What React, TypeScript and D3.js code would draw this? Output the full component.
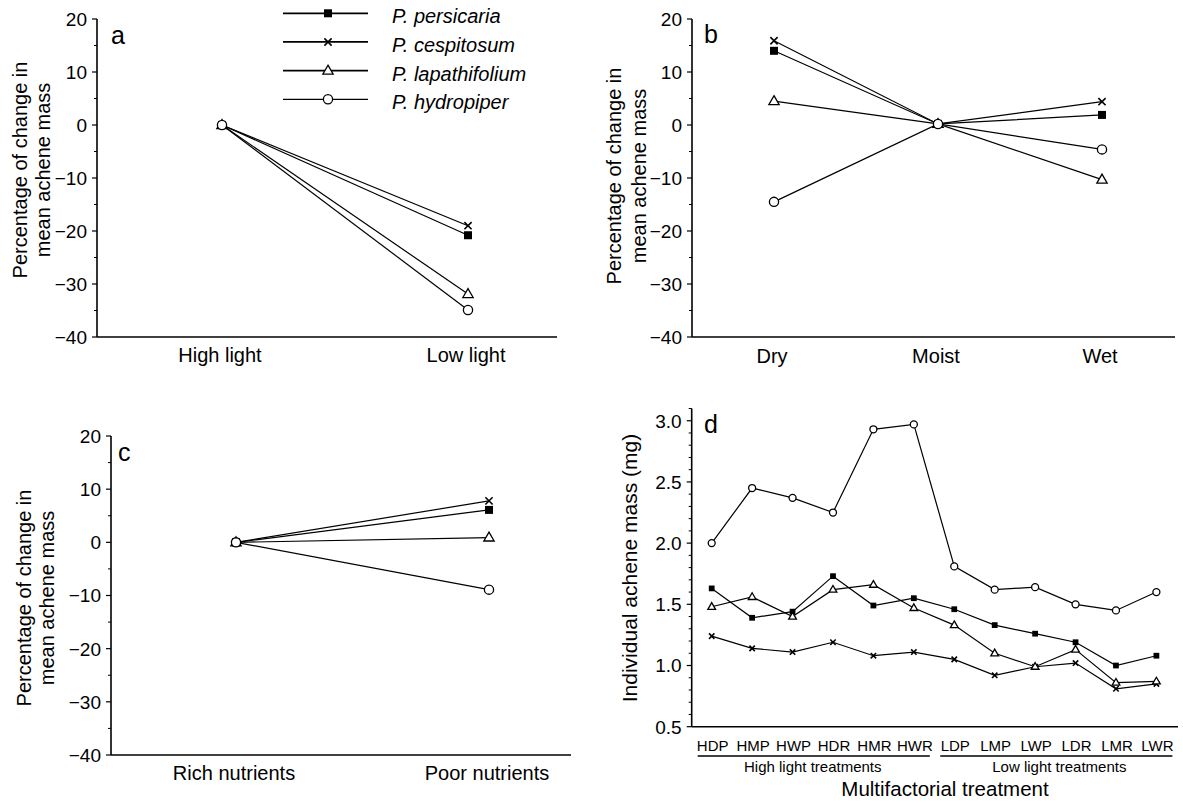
import { useEffect, useRef } from "react"
import * as d3 from "d3"

// legend / series order
const species = ["P. persicaria", "P. cespitosum", "P. lapathifolium", "P. hydropiper"]
const markerTypes = ["square", "cross", "triangle", "circle"]

// panel a: light
const lightCategories = ["High light", "Low light"]
const lightPersicaria = [0, -20.8]
const lightCespitosum = [0, -19]
const lightLapathifolium = [0, -31.9]
const lightHydropiper = [0, -34.9]

// panel b: water
const waterCategories = ["Dry", "Moist", "Wet"]
const waterPersicaria = [14, 0.2, 1.9]
const waterCespitosum = [15.9, 0.2, 4.4]
const waterLapathifolium = [4.5, 0.2, -10.3]
const waterHydropiper = [-14.5, 0.2, -4.6]

// panel c: nutrients
const nutrientCategories = ["Rich nutrients", "Poor nutrients"]
const nutrientPersicaria = [0, 6.1]
const nutrientCespitosum = [0, 7.8]
const nutrientLapathifolium = [0, 0.9]
const nutrientHydropiper = [0, -8.9]

// panel d: multifactorial
const treatmentCategories = ["HDP", "HMP", "HWP", "HDR", "HMR", "HWR", "LDP", "LMP", "LWP", "LDR", "LMR", "LWR"]
const treatmentGroups = ["High light treatments", "Low light treatments"]
const massPersicaria = [1.63, 1.39, 1.44, 1.73, 1.49, 1.55, 1.46, 1.33, 1.26, 1.19, 1.0, 1.08]
const massCespitosum = [1.24, 1.14, 1.11, 1.19, 1.08, 1.11, 1.05, 0.92, 0.99, 1.02, 0.81, 0.85]
const massLapathifolium = [1.48, 1.56, 1.4, 1.62, 1.66, 1.47, 1.33, 1.1, 0.99, 1.13, 0.86, 0.87]
const massHydropiper = [2.0, 2.45, 2.37, 2.25, 2.93, 2.97, 1.81, 1.62, 1.64, 1.5, 1.45, 1.6]

const percentTicks = [-40, -30, -20, -10, 0, 10, 20]
const percentMinorTicks = [-35, -25, -15, -5, 5, 15]
const massTicks = [0.5, 1.0, 1.5, 2.0, 2.5, 3.0]
const massMinorTicks = [0.6, 0.7, 0.8, 0.9, 1.1, 1.2, 1.3, 1.4, 1.6, 1.7, 1.8, 1.9, 2.1, 2.2, 2.3, 2.4, 2.6, 2.7, 2.8, 2.9, 3.1]

const FONT = "'Liberation Sans', Arial, Helvetica, sans-serif"

function drawMarker(g, type, x, y, big) {
    const s = big ? 1 : 0.72
    if (type === "square") {
        const w = 8 * s
        g.append("rect").attr("x", x - w / 2).attr("y", y - w / 2).attr("width", w).attr("height", w).attr("fill", "#000")
    } else if (type === "cross") {
        const r = 3.2 * s + 0.4
        g.append("path")
            .attr("d", `M${x - r},${y - r}L${x + r},${y + r}M${x - r},${y + r}L${x + r},${y - r}`)
            .attr("stroke", "#000").attr("stroke-width", 1.6)
    } else if (type === "triangle") {
        g.append("path")
            .attr("d", d3.symbol(d3.symbolTriangle, big ? 46 : 26)())
            .attr("transform", `translate(${x},${y + (big ? 0.5 : 0.3)})`)
            .attr("fill", "#fff").attr("stroke", "#000").attr("stroke-width", 1.3)
    } else {
        g.append("circle").attr("cx", x).attr("cy", y).attr("r", big ? 4.6 : 3.5)
            .attr("fill", "#fff").attr("stroke", "#000").attr("stroke-width", 1.3)
    }
}

function drawLeftAxis(g, y, x0, ticks, minor, fmt) {
    g.append("line").attr("x1", x0).attr("x2", x0).attr("y1", y.range()[1]).attr("y2", y.range()[0])
        .attr("stroke", "#000").attr("stroke-width", 1.6)
    ticks.forEach(t => {
        g.append("line").attr("x1", x0 - 5).attr("x2", x0).attr("y1", y(t)).attr("y2", y(t)).attr("stroke", "#000").attr("stroke-width", 1.2)
        g.append("text").attr("x", x0 - 10).attr("y", y(t)).attr("dy", "0.36em").attr("text-anchor", "end")
            .attr("font-size", 19).text(fmt(t))
    })
    minor.forEach(t => {
        g.append("line").attr("x1", x0 - 3).attr("x2", x0).attr("y1", y(t)).attr("y2", y(t)).attr("stroke", "#000").attr("stroke-width", 1)
    })
}

function drawYTitle(g, lines, xs, cy, size) {
    lines.forEach((txt, i) => {
        g.append("text").attr("transform", `translate(${xs[i]},${cy}) rotate(-90)`)
            .attr("text-anchor", "middle").attr("font-size", size).text(txt)
    })
}

function drawSeries(g, x, y, cats, series, big) {
    series.forEach((vals, si) => {
        const pts = cats.map((c, i) => [x(c), y(vals[i])])
        g.append("path").attr("d", d3.line()(pts)).attr("fill", "none").attr("stroke", "#000").attr("stroke-width", 1.2)
        pts.forEach(p => drawMarker(g, markerTypes[si], p[0], p[1], big))
    })
}

export default function App() {
    const svgRef = useRef(null)

    useEffect(() => {
        const svg = d3.select(svgRef.current)
        svg.selectAll("*").remove()
        const root = svg.append("g").attr("font-family", FONT).attr("fill", "#000")
        const fmtPct = d3.format("d")

        // ---- percentage panels a, b, c
        const pctPanels = [
            { letter: "a", letterPos: [111, 44], cats: lightCategories, xr: [222, 468], axisX: 97, axisEnd: 557, yr: [337, 19],
              labelY: 362, titleX: [27, 50], titleY: 170,
              series: [lightPersicaria, lightCespitosum, lightLapathifolium, lightHydropiper] },
            { letter: "b", letterPos: [704, 43], cats: waterCategories, xr: [774, 1102], axisX: 692, axisEnd: 1175, yr: [337, 19],
              labelY: 363, titleX: [621, 646], titleY: 176,
              series: [waterPersicaria, waterCespitosum, waterLapathifolium, waterHydropiper] },
            { letter: "c", letterPos: [118, 461], cats: nutrientCategories, xr: [236, 489], axisX: 111, axisEnd: 571, yr: [755, 436],
              labelY: 780, titleX: [31, 54], titleY: 598,
              series: [nutrientPersicaria, nutrientCespitosum, nutrientLapathifolium, nutrientHydropiper] },
        ]

        pctPanels.forEach(p => {
            const g = root.append("g")
            const x = d3.scalePoint().domain(p.cats).range(p.xr)
            const y = d3.scaleLinear().domain([-40, 20]).range(p.yr)

            drawLeftAxis(g, y, p.axisX, percentTicks, percentMinorTicks, fmtPct)
            g.append("line").attr("x1", p.axisX).attr("x2", p.axisEnd).attr("y1", y(-40)).attr("y2", y(-40))
                .attr("stroke", "#000").attr("stroke-width", 1.6)

            p.cats.forEach(c => {
                g.append("text").attr("x", x(c) - 2).attr("y", p.labelY).attr("text-anchor", "middle")
                    .attr("font-size", 20).text(c)
            })
            drawYTitle(g, ["Percentage of change in", "mean achene mass"], p.titleX, p.titleY, 20)
            g.append("text").attr("x", p.letterPos[0]).attr("y", p.letterPos[1]).attr("font-size", 25).text(p.letter)

            drawSeries(g, x, y, p.cats, p.series, true)
        })

        // ---- legend (panel a)
        const legend = root.append("g")
        const legendY = d3.scalePoint().domain(species).range([13.3, 99.3])
        species.forEach((s, i) => {
            const ly = legendY(s)
            legend.append("line").attr("x1", 283).attr("x2", 368).attr("y1", ly).attr("y2", ly)
                .attr("stroke", "#000").attr("stroke-width", i < 3 ? 1.8 : 1.2)
            drawMarker(legend, markerTypes[i], 328, ly, true)
            legend.append("text").attr("x", 392).attr("y", ly + 10).attr("font-size", 20)
                .attr("font-style", "italic").text(s)
        })

        // ---- panel d
        const gd = root.append("g")
        const xd = d3.scalePoint().domain(treatmentCategories).range([711.7, 1156.4])
        const yd = d3.scaleLinear().domain([0.5, 3.1]).range([726.7, 408.5])
        const axisXd = 691.7

        drawLeftAxis(gd, yd, axisXd, massTicks, massMinorTicks, d3.format(".1f"))
        gd.append("line").attr("x1", axisXd).attr("x2", 1178).attr("y1", yd(0.5)).attr("y2", yd(0.5))
            .attr("stroke", "#000").attr("stroke-width", 1.6)

        treatmentCategories.forEach(c => {
            gd.append("text").attr("x", xd(c) + 1).attr("y", 751).attr("text-anchor", "middle")
                .attr("font-size", 15).text(c)
        })

        const groupCats = [treatmentCategories.slice(0, 6), treatmentCategories.slice(6)]
        groupCats.forEach((cats, i) => {
            const x0 = xd(cats[0]) - 14
            const x1 = xd(cats[cats.length - 1]) + 16
            gd.append("line").attr("x1", x0).attr("x2", x1).attr("y1", 756).attr("y2", 756)
                .attr("stroke", "#000").attr("stroke-width", 1.3)
            gd.append("text").attr("x", (xd(cats[0]) + xd(cats[cats.length - 1])) / 2 + (i ? 4 : 0)).attr("y", 772)
                .attr("text-anchor", "middle").attr("font-size", 15).text(treatmentGroups[i])
        })

        gd.append("text").attr("x", 945).attr("y", 796).attr("text-anchor", "middle").attr("font-size", 20.5)
            .text("Multifactorial treatment")
        drawYTitle(gd, ["Individual achene mass (mg)"], [637], 568, 21)
        gd.append("text").attr("x", 704).attr("y", 433).attr("font-size", 25).text("d")

        drawSeries(gd, xd, yd, treatmentCategories, [massPersicaria, massCespitosum, massLapathifolium, massHydropiper], false)
    }, [])

    return (
        <svg
            ref={svgRef}
            width={1183}
            height={803}
            viewBox="0 0 1183 803"
            style={{ position: "absolute", left: 0, top: 0, background: "#fff" }}
        />
    )
}
